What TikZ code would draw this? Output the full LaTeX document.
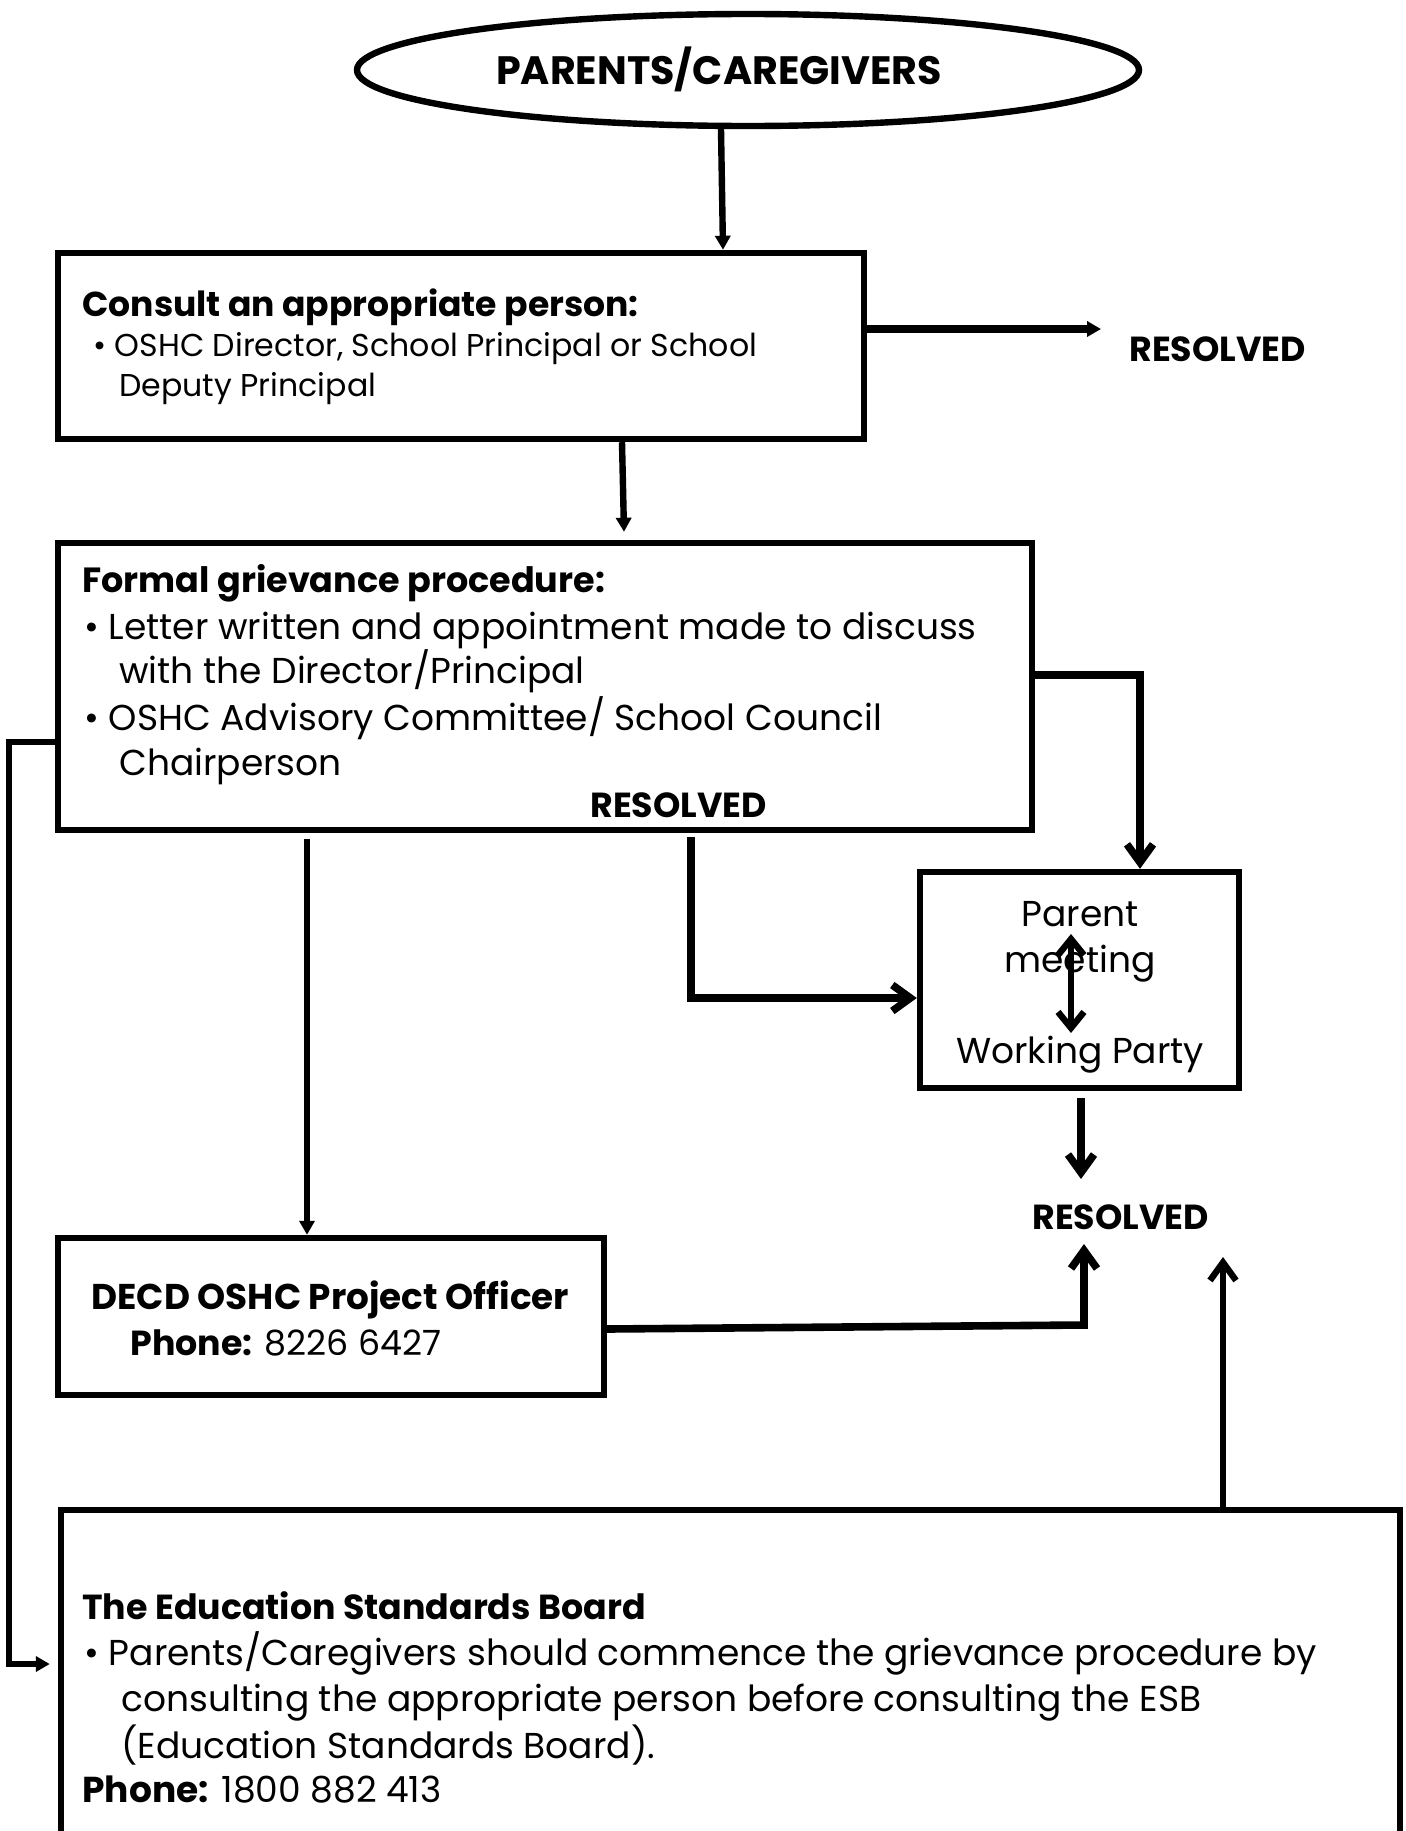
\documentclass[tikz,border=0pt]{standalone}
\usepackage{fontspec}
\setmainfont{Poppins}
\usetikzlibrary{arrows.meta,shapes.geometric}
\begin{document}
\begin{tikzpicture}[x=0.5pt,y=-0.5pt,
  box/.style={draw,rectangle,line width=3.2pt,inner sep=0pt},
  txt/.style={anchor=base west,inner sep=0pt},
  big/.style={font=\fontsize{18}{22}\selectfont},
  small/.style={font=\fontsize{15.8}{18}\selectfont},
  hd/.style={font=\bfseries\fontsize{#1}{20}\selectfont},
  res/.style={anchor=base west,inner sep=0pt,font=\bfseries\fontsize{17.4}{20}\selectfont},
  conn/.style={line width=3.2pt},
  thick conn/.style={line width=3.8pt},
  fill tip/.style={-{Triangle[length=7pt,width=7.5pt]}},
  barb/.style={-{Straight Barb[length=9pt,width=13pt]}}
]
\useasboundingbox (0,0) rectangle (1406,1831);
\clip (0,0) rectangle (1406,1831);

% ellipse
\node[draw,ellipse,line width=3.2pt,minimum width=391pt,minimum height=56pt,inner sep=0pt] (ell) at (748,70) {};
\node[inner sep=0pt,anchor=base,font=\bfseries\fontsize{19.8}{24}\selectfont] (ellt) at (719,84) {PARENTS/CAREGIVERS};

% boxes
\node[box,minimum width=403pt,minimum height=93pt] (b1) at (461,346) {};
\node[box,minimum width=487pt,minimum height=143.5pt] (b2) at (545,686.5) {};
\node[box,minimum width=159.5pt,minimum height=108pt] (b3) at (1079.5,980) {};
\node[box,minimum width=273pt,minimum height=78.5pt] (b4) at (331,1316.5) {};
\node[box,minimum width=669.5pt,minimum height=185pt] (b5) at (730.5,1695) {};

% box 1 text
\node[txt,hd=17.3] (t1a) at (82,316) {Consult an appropriate person:};
\node[txt,small] (t1b) at (93,356) {\textbullet\ OSHC Director, School Principal or School};
\node[txt,small] (t1c) at (119,396) {Deputy Principal};

% resolved right of box 1
\node[res] (r1) at (1129,361) {RESOLVED};

% box 2 text
\node[txt,hd=17.5] (t2a) at (82,592) {Formal grievance procedure:};
\node[txt,big] (t2b) at (84,639) {\textbullet\ Letter written and appointment made to discuss};
\node[txt,big] (t2c) at (119,683) {with the Director/Principal};
\node[txt,big] (t2d) at (84,730) {\textbullet\ OSHC Advisory Committee/ School Council};
\node[txt,big] (t2e) at (119,775) {Chairperson};
\node[res] (r2) at (590,817) {RESOLVED};

% box 3 text
\node[big,inner sep=0pt,anchor=base] (t3a) at (1080,926) {Parent};
\node[big,inner sep=0pt,anchor=base] (t3b) at (1080,972) {meeting};
\node[big,inner sep=0pt,anchor=base] (t3c) at (1080,1063) {Working Party};

% resolved below box 3
\node[res] (r3) at (1032,1229) {RESOLVED};

% box 4 text
\node[txt,hd=17.9] (t4a) at (91,1309) {DECD OSHC Project Officer};
\node[txt,font=\fontsize{17.4}{22}\selectfont] (t4b) at (130,1355) {\textbf{Phone:} 8226 6427};

% box 5 text
\node[txt,hd=17.4] (t5a) at (82,1619) {The Education Standards Board};
\node[txt,big] (t5b) at (84,1665) {\textbullet\ Parents/Caregivers should commence the grievance procedure by};
\node[txt,big] (t5c) at (121,1711) {consulting the appropriate person before consulting the ESB};
\node[txt,big] (t5d) at (121,1758) {(Education Standards Board).};
\node[txt,big] (t5e) at (82,1802) {\textbf{Phone:} 1800 882 413};

% coordinates for free ends
\coordinate (e1) at (1101,329);
\coordinate (e3) at (1081,1179);
\coordinate (e4) at (1084,1244);
\coordinate (e5) at (1223,1257);
\coordinate (dtop) at (1071,934);
\coordinate (dbot) at (1071,1033);

% connectors
\draw[conn,fill tip] (ell.south -| 721,0) -- (b1.north -| 723,0);
\draw[thick conn,fill tip] (b1.east |- 0,329) -- (e1);
\draw[conn,fill tip] (b1.south -| 622,0) -- ([yshift=4pt]b2.north -| 624,0);
\draw[conn,fill tip] (b2.west |- 0,742) -| (9,1664) -- ([xshift=-4pt]b5.west |- 0,1664);
\draw[thick conn,barb] ([xshift=-2pt]b2.east |- 0,675) -| (b3.north -| 1140,0);
\draw[thick conn,barb] ([yshift=-2pt]b2.south -| 691,0) |- (b3.west |- 0,998);
\draw[line width=3.4pt,fill tip] ([yshift=-3pt]b2.south -| 307,0) -- (b4.north -| 307,0);
\draw[line width=3.2pt,{Straight Barb[length=8pt,width=13pt]}-{Straight Barb[length=8pt,width=13pt]}] (dtop) -- (dbot);
\draw[thick conn,barb] ([yshift=-3.5pt]b3.south -| 1081,0) -- (e3);
\draw[thick conn,barb] (b4.east |- 0,1329) -- (1084,1325) -- (e4);
\draw[conn,barb] ([yshift=-2pt]b5.north -| 1223,0) -- (e5);
\end{tikzpicture}
\end{document}
